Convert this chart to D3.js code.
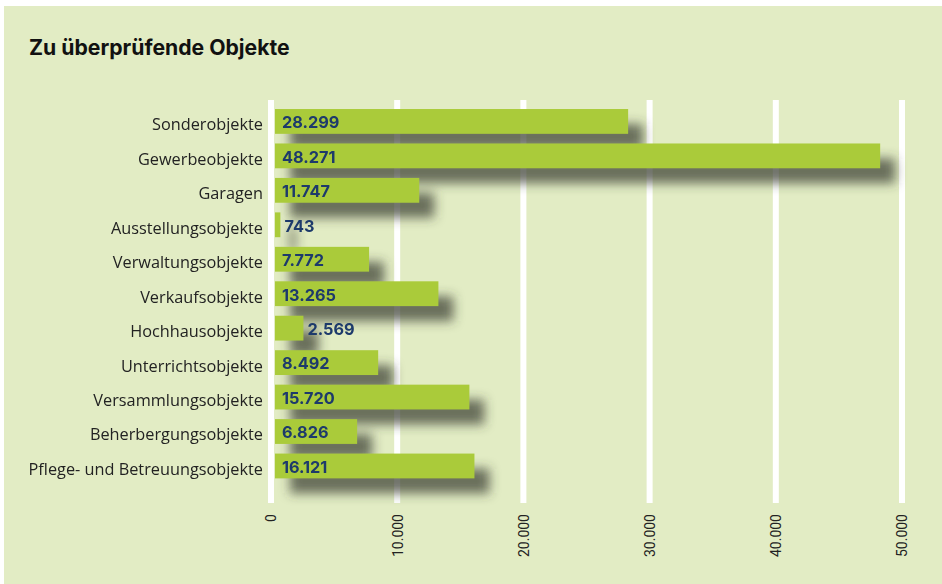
<!DOCTYPE html>
<html>
<head>
<meta charset="utf-8">
<script src="https://cdn.jsdelivr.net/npm/d3@7/dist/d3.min.js"></script>
<style>
  html, body { margin: 0; padding: 0; background: #ffffff; }
  svg { display: block; }
</style>
</head>
<body>
<svg id="chart" width="942" height="584"></svg>
<script>
const categories = [
  "Sonderobjekte", "Gewerbeobjekte", "Garagen", "Ausstellungsobjekte",
  "Verwaltungsobjekte", "Verkaufsobjekte", "Hochhausobjekte",
  "Unterrichtsobjekte", "Versammlungsobjekte", "Beherbergungsobjekte",
  "Pflege- und Betreuungsobjekte"
];
const values = [28299, 48271, 11747, 743, 7772, 13265, 2569, 8492, 15720, 6826, 16121];
const valueLabels = ["28.299", "48.271", "11.747", "743", "7.772", "13.265", "2.569", "8.492", "15.720", "6.826", "16.121"];
const tickValues = [0, 10000, 20000, 30000, 40000, 50000];
const tickLabels = ["0", "10.000", "20.000", "30.000", "40.000", "50.000"];
const title = "Zu überprüfende Objekte";

const svg = d3.select("#chart");

// background panel
svg.append("rect").attr("x", 4).attr("y", 6).attr("width", 938).attr("height", 578)
  .attr("fill", "#e2ecc4");

// shadow filter
const defs = svg.append("defs");
const f = defs.append("filter").attr("id", "blur")
  .attr("x", "-20%").attr("y", "-100%").attr("width", "140%").attr("height", "300%");
f.append("feGaussianBlur").attr("stdDeviation", 5.5);

svg.append("text").attr("x", 29).attr("y", 55)
  .attr("font-family", "Inter, 'DejaVu Sans', sans-serif")
  .attr("font-weight", 700).attr("font-size", 21.2).attr("fill", "#111")
  .text(title);

const x = d3.scaleLinear().domain([0, 50000]).range([271, 902]);
const y = d3.scaleBand().domain(categories).range([104.2, 483.2])
  .paddingInner(0.28).paddingOuter(0.14);

// gridlines
svg.append("g").selectAll("rect").data(tickValues).join("rect")
  .attr("x", d => x(d) - 3).attr("width", 6)
  .attr("y", 100).attr("height", 403)
  .attr("fill", "#ffffff");

const barStart = x(0) + 4;
const data = categories.map((c, i) => ({c, v: values[i], l: valueLabels[i]}));

// shadows
svg.append("g").attr("filter", "url(#blur)").selectAll("rect").data(data).join("rect")
  .attr("x", barStart + 15).attr("y", d => y(d.c) + 15)
  .attr("width", d => Math.max(0, x(d.v) - barStart))
  .attr("height", y.bandwidth())
  .attr("fill", "#3a3f35").attr("opacity", 0.72);

// bars
svg.append("g").selectAll("rect").data(data).join("rect")
  .attr("x", barStart).attr("y", d => y(d.c))
  .attr("width", d => Math.max(0, x(d.v) - barStart))
  .attr("height", y.bandwidth())
  .attr("fill", "#aacb3a");

// value labels
svg.append("g").selectAll("text").data(data).join("text")
  .attr("x", d => (x(d.v) - barStart) < 40 ? x(d.v) + 4 : barStart + 7)
  .attr("y", d => y(d.c) + y.bandwidth() / 2)
  .attr("dy", "0.42em")
  .attr("font-family", "Inter, 'DejaVu Sans', sans-serif")
  .attr("font-weight", 700).attr("font-size", 16.3).attr("fill", "#1d3a6b")
  .text(d => d.l);

// category labels
svg.append("g").selectAll("text").data(categories).join("text")
  .attr("x", 263).attr("y", d => y(d) + y.bandwidth() / 2)
  .attr("dy", "0.55em").attr("text-anchor", "end")
  .attr("font-family", "'Open Sans', 'DejaVu Sans', sans-serif")
  .attr("font-size", 16.3).attr("fill", "#222")
  .text(d => d);

// x axis
const axis = d3.axisBottom(x).tickValues(tickValues)
  .tickFormat((d, i) => tickLabels[i]).tickSize(0).tickPadding(0);
const ag = svg.append("g").attr("transform", "translate(0,514)").call(axis);
ag.select(".domain").remove();
ag.selectAll("text")
  .attr("transform", "rotate(-90)")
  .attr("x", 0).attr("y", 0).attr("dy", "0.35em")
  .attr("text-anchor", "end")
  .attr("font-family", "Roboto, 'DejaVu Sans', sans-serif")
  .attr("font-size", 14).attr("fill", "#222");
</script>
</body>
</html>
